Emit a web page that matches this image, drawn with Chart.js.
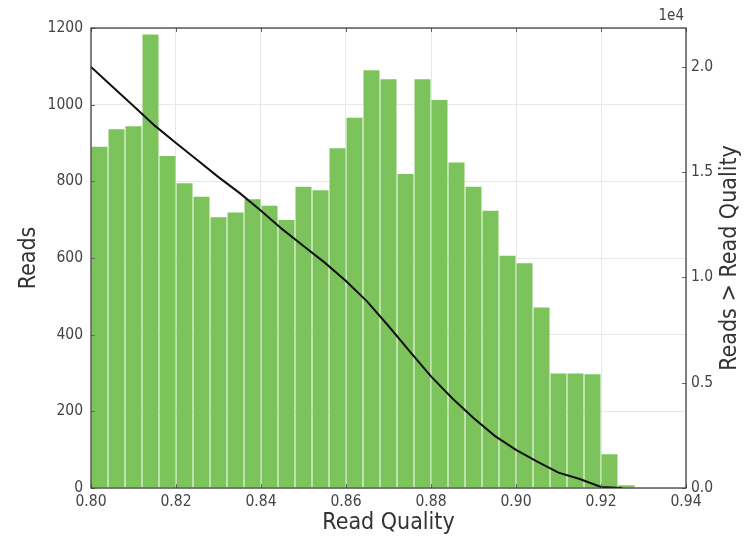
<!DOCTYPE html>
<html>
<head>
<meta charset="utf-8">
<script src="https://cdn.jsdelivr.net/npm/chart.js@4.4.0/dist/chart.umd.min.js"></script>
<style>
  html, body { margin: 0; padding: 0; background: #fff; }
  #wrap { width: 747px; height: 537px; }
</style>
</head>
<body>
<div id="wrap"><canvas id="quality-chart" width="747" height="537"></canvas></div>
<script>
// histogram: centre of each 0.004-wide quality bin and its read count
const binCenters = [0.802, 0.806, 0.810, 0.814, 0.818, 0.822, 0.826, 0.830,
                    0.834, 0.838, 0.842, 0.846, 0.850, 0.854, 0.858, 0.862,
                    0.866, 0.870, 0.874, 0.878, 0.882, 0.886, 0.890, 0.894,
                    0.898, 0.902, 0.906, 0.910, 0.914, 0.918, 0.922, 0.926];
const readCounts = [890, 936, 944, 1183, 866, 795, 760, 706,
                    719, 753, 736, 699, 786, 777, 886, 966,
                    1090, 1066, 819, 1066, 1012, 849, 786, 723,
                    606, 586, 471, 299, 299, 297, 88, 7];

// number of reads with quality above the given value
const curveQuality = [0.800, 0.805, 0.810, 0.815, 0.820, 0.825, 0.830, 0.835, 0.840,
                      0.845, 0.850, 0.855, 0.860, 0.865, 0.870, 0.875, 0.880, 0.885,
                      0.890, 0.895, 0.900, 0.905, 0.910, 0.915, 0.920, 0.925];
const readsAbove = [19990, 19060, 18140, 17205, 16380, 15570, 14760, 14000, 13160,
                    12290, 11490, 10700, 9824, 8850, 7690, 6485, 5300, 4262,
                    3319, 2476, 1810, 1252, 730, 430, 50, 0];

const xTicks = [0.80, 0.82, 0.84, 0.86, 0.88, 0.90, 0.92, 0.94];
const readTicks = [0, 200, 400, 600, 800, 1000, 1200];
const aboveTicks = [0, 5000, 10000, 15000, 20000];

const FONT = "'DejaVu Sans Condensed', 'DejaVu Sans', sans-serif";
const TICK_COLOR = '#444';

const setTicks = values => axis => { axis.ticks = values.map(v => ({ value: v })); };

// box around the plot, inward tick marks, right-hand label and exponent
const framePlugin = {
    id: 'frame',
    afterDatasetsDraw(chart) {
        const { ctx, chartArea: a, scales } = chart;
        ctx.save();
        ctx.strokeStyle = '#666';
        ctx.lineWidth = 1;
        ctx.beginPath();
        xTicks.forEach(v => {
            const px = Math.round(scales.x.getPixelForValue(v)) + 0.5;
            ctx.moveTo(px, a.bottom); ctx.lineTo(px, a.bottom - 4);
            ctx.moveTo(px, a.top); ctx.lineTo(px, a.top + 4);
        });
        readTicks.forEach(v => {
            const py = Math.round(scales.y.getPixelForValue(v)) + 0.5;
            ctx.moveTo(a.left, py); ctx.lineTo(a.left + 4, py);
        });
        aboveTicks.forEach(v => {
            const py = Math.round(scales.y1.getPixelForValue(v)) + 0.5;
            ctx.moveTo(a.right, py); ctx.lineTo(a.right - 4, py);
        });
        ctx.stroke();
        ctx.strokeStyle = '#333';
        ctx.lineWidth = 1.2;
        ctx.strokeRect(a.left, a.top, a.right - a.left, a.bottom - a.top);
        ctx.restore();
    },
    afterDraw(chart) {
        const { ctx, chartArea: a } = chart;
        ctx.save();
        ctx.fillStyle = '#333';
        ctx.font = '23px ' + FONT;
        ctx.textAlign = 'center';
        ctx.textBaseline = 'middle';
        ctx.translate(730, (a.top + a.bottom) / 2);
        ctx.rotate(-Math.PI / 2);
        ctx.fillText('Reads > Read Quality', 0, 0);
        ctx.restore();

        ctx.save();
        ctx.fillStyle = TICK_COLOR;
        ctx.font = '15px ' + FONT;
        ctx.textAlign = 'right';
        ctx.textBaseline = 'middle';
        ctx.fillText('1e4', a.right - 2, 16.5);
        ctx.restore();
    }
};

const ctx = document.getElementById('quality-chart').getContext('2d');

new Chart(ctx, {
    type: 'bar',
    data: {
        datasets: [
            {
                type: 'line',
                label: 'Reads > Read Quality',
                data: curveQuality.map((q, i) => ({ x: q, y: readsAbove[i] })),
                yAxisID: 'y1',
                borderColor: '#111',
                borderWidth: 2,
                pointRadius: 0,
                tension: 0,
                order: 0
            },
            {
                label: 'Reads',
                data: binCenters.map((q, i) => ({ x: q, y: readCounts[i] })),
                yAxisID: 'y',
                backgroundColor: '#7bc35a',
                borderWidth: 0,
                barPercentage: 0.94,
                categoryPercentage: 1,
                order: 1
            }
        ]
    },
    options: {
        responsive: false,
        animation: false,
        layout: { padding: { top: 28, left: 0, right: 0, bottom: 0 } },
        plugins: {
            legend: { display: false },
            tooltip: { enabled: false }
        },
        scales: {
            x: {
                type: 'linear',
                min: 0.80,
                max: 0.94,
                offset: false,
                afterBuildTicks: setTicks(xTicks),
                afterFit: s => { s.height = 49; },
                grid: { offset: false, color: '#e8e8e8', drawTicks: false },
                border: { display: false },
                ticks: {
                    padding: 5,
                    color: TICK_COLOR,
                    font: { family: FONT, size: 15.5 },
                    maxRotation: 0,
                    callback: v => v.toFixed(2)
                },
                title: {
                    display: true,
                    text: 'Read Quality',
                    color: '#333',
                    font: { family: FONT, size: 23 },
                    padding: { top: 8, bottom: 0 }
                }
            },
            y: {
                position: 'left',
                min: 0,
                max: 1200,
                afterBuildTicks: setTicks(readTicks),
                afterFit: s => { s.width = 91; },
                grid: { color: '#e8e8e8', drawTicks: false },
                border: { display: false },
                ticks: {
                    padding: 8,
                    color: TICK_COLOR,
                    font: { family: FONT, size: 15.5 },
                    callback: v => String(v)
                },
                title: {
                    display: true,
                    text: 'Reads',
                    color: '#333',
                    font: { family: FONT, size: 23 },
                    padding: { top: 15, bottom: 0 }
                }
            },
            y1: {
                position: 'right',
                min: 0,
                max: 21840,
                afterBuildTicks: setTicks(aboveTicks),
                afterFit: s => { s.width = 61; },
                grid: { display: false, drawTicks: false },
                border: { display: false },
                ticks: {
                    padding: 5,
                    color: TICK_COLOR,
                    font: { family: FONT, size: 15.5 },
                    callback: v => (v / 10000).toFixed(1)
                }
            }
        }
    },
    plugins: [framePlugin]
});
</script>
</body>
</html>
